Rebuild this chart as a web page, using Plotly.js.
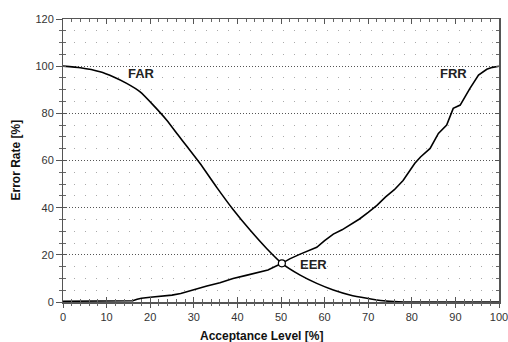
<!DOCTYPE html>
<html><head><meta charset="utf-8">
<script src="https://cdn.plot.ly/plotly-3.0.1.min.js"></script>
<style>html,body{margin:0;padding:0;background:#fff}#c{width:508px;height:342px}</style>
</head><body><div id="c"></div>
<script>
// FAR curve
const farX = [0, 4, 8.5, 11.5, 14.6, 17.7, 20.7, 23.8, 26.4, 28.4, 31.4, 35.3, 39.1, 42.9, 46.7, 50.2, 54.4, 58.2, 62, 65.8, 69.7, 73.5, 77, 80, 90, 100];
const farY = [100, 99.3, 97.6, 95.5, 92.7, 89.1, 83.5, 77.1, 70.8, 66.0, 58.8, 48.5, 39.0, 30.5, 22.7, 16.4, 11.4, 7.9, 5.1, 3.0, 1.6, 0.5, 0.1, 0, 0, 0];
// FRR curve
const frrX = [0, 5, 10, 14, 16, 17, 18, 20, 22, 25, 27, 30, 33, 36, 39, 42, 45, 47, 50.2, 52, 54.4, 56, 58.2, 60, 62, 64, 66, 68, 70, 72, 74, 76, 78, 80.7, 82, 84.2, 86.1, 88, 89.5, 91.1, 93.3, 95.3, 97.2, 98.5, 100];
const frrY = [0.3, 0.3, 0.3, 0.4, 0.5, 1.2, 1.6, 2.0, 2.3, 2.9, 3.6, 5.3, 6.8, 8.2, 10.0, 11.3, 12.5, 13.6, 16.4, 18.3, 20.3, 21.5, 23.2, 26.0, 28.8, 30.6, 32.8, 35.2, 38.0, 41.0, 44.6, 47.6, 51.5, 58.8, 61.5, 65.1, 71.5, 75.0, 82.1, 83.5, 90.5, 96.2, 98.7, 99.5, 100];
// Equal error rate point
const eerX = [50.2];
const eerY = [16.4];
// Labels
const labels = ["FAR", "FRR", "EER"];
const labelX = [18.0, 89.6, 57.4];
const labelY = [96.9, 97.0, 15.9];
const xTitle = "Acceptance Level [%]";
const yTitle = "Error Rate [%]";

const font = "Liberation Sans, Arial, sans-serif";
const traces = [
  {x: farX, y: farY, mode: "lines", line: {color: "#000", width: 1.6, shape: "spline", smoothing: 0.5}, hoverinfo: "skip"},
  {x: frrX, y: frrY, mode: "lines", line: {color: "#000", width: 1.6}, hoverinfo: "skip"},
  {x: eerX, y: eerY, mode: "markers", marker: {symbol: "circle", size: 7, color: "#fff", line: {color: "#000", width: 1.2}}, hoverinfo: "skip"},
  {x: [0], y: [0], xaxis: "x2", yaxis: "y2", mode: "markers", marker: {opacity: 0}, hoverinfo: "skip"}
];
const tickFont = {family: font, size: 11, color: "#333"};
const layout = {
  width: 508, height: 342,
  margin: {l: 63, r: 9, t: 19, b: 40},
  paper_bgcolor: "#fff", plot_bgcolor: "#fff",
  showlegend: false,
  xaxis: {range: [0, 100], showline: true, linecolor: "#555", linewidth: 1.5, mirror: "allticks",
    ticks: "inside", ticklen: 5, tickcolor: "#555", dtick: 10, tick0: 0, showticklabels: false,
    showgrid: false, zeroline: false,
    minor: {ticks: "inside", dtick: 2, ticklen: 3, tickcolor: "#666", showgrid: false}},
  yaxis: {range: [0, 120], showline: true, linecolor: "#555", linewidth: 1.5, mirror: "allticks",
    ticks: "inside", ticklen: 3, tickcolor: "#555", dtick: 20, tick0: 0, showticklabels: false,
    showgrid: true, gridcolor: "#555", griddash: "1px,2px", gridwidth: 1, zeroline: false,
    minor: {ticks: "inside", dtick: 5, ticklen: 3, tickcolor: "#666", showgrid: true, gridcolor: "#aaa", griddash: "1px,10px", gridwidth: 1}},
  xaxis2: {range: [0, 100], overlaying: "x", anchor: "y2", side: "bottom", showline: false,
    ticks: "outside", ticklen: 5, tickcolor: "#555", dtick: 10, tick0: 0, tickfont: tickFont,
    ticklabeloverflow: "allow", showgrid: false, zeroline: false,
    minor: {ticks: "outside", dtick: 2, ticklen: 3, tickcolor: "#666"}},
  yaxis2: {range: [0, 120], overlaying: "y", anchor: "x2", side: "left", showline: false,
    ticks: "outside", ticklen: 6, tickcolor: "#555", dtick: 20, tick0: 0, tickfont: tickFont,
    ticklabeloverflow: "allow", showgrid: false, zeroline: false,
    minor: {ticks: "outside", dtick: 5, ticklen: 3, tickcolor: "#666"}},
  annotations: labels.map((t, i) => ({x: labelX[i], y: labelY[i], xref: "x", yref: "y", text: "<b>" + t + "</b>",
    showarrow: false, font: {family: font, size: 13, color: "#222"}, xanchor: "center", yanchor: "middle"}))
    .concat([
      {x: 0.456, y: -0.12, xref: "paper", yref: "paper", text: "<b>" + xTitle + "</b>", showarrow: false,
        font: {family: font, size: 12, color: "#111"}, xanchor: "center", yanchor: "middle"},
      {x: -0.11, y: 0.5, xref: "paper", yref: "paper", text: "<b>" + yTitle + "</b>", showarrow: false, textangle: -90,
        font: {family: font, size: 12, color: "#111"}, xanchor: "center", yanchor: "middle"}
    ])
};
Plotly.newPlot("c", traces, layout, {staticPlot: true});
</script>
</body></html>
